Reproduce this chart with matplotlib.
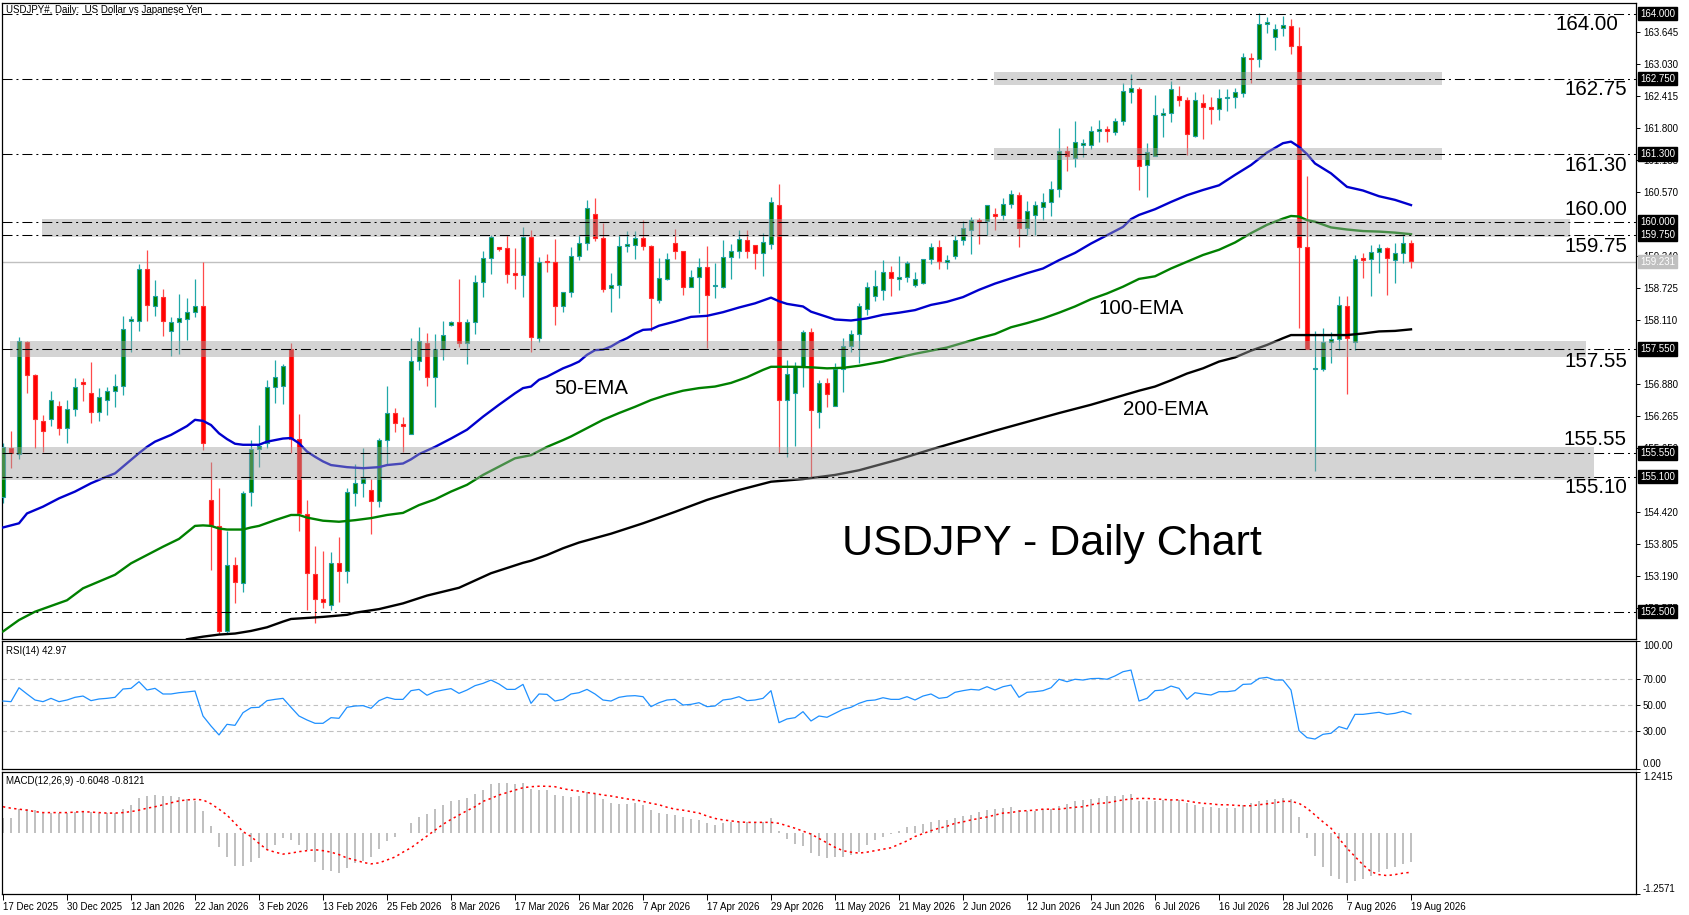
import matplotlib
matplotlib.use("Agg")
import matplotlib.pyplot as plt
from matplotlib.transforms import blended_transform_factory
import numpy as np

# daily candles, 17 Dec 2025 .. 19 Aug 2026
opens = [154.70, 155.65, 155.53, 157.68, 157.05, 156.16, 156.20, 156.45, 156.03, 156.39,
         156.92, 156.70, 156.35, 156.58, 156.74, 156.85, 158.09, 158.10, 159.10, 158.37,
         158.56, 157.89, 158.07, 158.13, 158.26, 158.37, 154.64, 154.15, 152.12, 153.40,
         153.06, 154.80, 155.62, 155.75, 156.82, 156.85, 157.55, 155.83, 154.37, 153.22,
         152.74, 152.62, 153.43, 153.29, 154.78, 154.97, 154.85, 154.62, 155.81, 156.33,
         156.10, 155.91, 157.33, 157.67, 157.02, 157.55, 158.01, 158.08, 157.66, 158.07,
         158.84, 159.30, 159.50, 159.49, 159.01, 158.97, 159.70, 157.76, 159.24, 159.23,
         158.37, 158.64, 159.35, 159.60, 160.14, 159.68, 158.72, 158.78, 159.53, 159.55,
         159.68, 159.53, 158.49, 158.90, 159.60, 159.43, 158.75, 158.94, 159.12, 158.76,
         158.75, 159.32, 159.44, 159.65, 159.55, 159.40, 159.58, 160.32, 156.57, 156.71,
         157.21, 157.87, 156.35, 156.89, 156.46, 157.16, 157.61, 157.85, 158.33, 158.57,
         158.69, 159.04, 158.89, 158.93, 158.78, 158.83, 159.28, 159.51, 159.23, 159.34,
         159.65, 159.85, 160.03, 160.01, 160.13, 160.13, 160.34, 160.51, 159.87, 160.12,
         160.29, 160.37, 160.62, 161.36, 161.22, 161.47, 161.48, 161.74, 161.78, 161.72,
         161.94, 162.50, 162.55, 161.09, 161.26, 162.06, 162.09, 162.42, 162.35, 161.65,
         162.29, 162.20, 162.16, 162.37, 162.40, 162.47, 163.15, 163.12, 163.81, 163.55,
         163.73, 163.77, 163.37, 159.51, 157.16, 157.16, 157.68, 157.74, 158.38, 157.69,
         159.29, 159.28, 159.41, 159.49, 159.26, 159.40, 159.60]
highs = [155.75, 155.98, 157.79, 157.71, 157.07, 156.28, 156.74, 156.55, 156.57, 157.00,
         157.00, 157.30, 156.80, 156.83, 157.07, 158.18, 158.19, 159.19, 159.46, 158.88,
         158.71, 158.16, 158.61, 158.53, 158.90, 159.23, 155.37, 154.87, 154.06, 153.55,
         154.83, 155.80, 156.09, 156.96, 157.34, 157.26, 157.67, 156.30, 154.65, 153.76,
         153.67, 153.64, 153.93, 154.87, 155.35, 155.65, 155.05, 155.85, 156.84, 156.42,
         156.24, 157.77, 157.98, 157.86, 157.85, 158.09, 158.10, 158.90, 158.13, 158.98,
         159.44, 159.74, 159.52, 159.74, 159.49, 159.89, 159.85, 159.32, 159.38, 159.67,
         158.64, 159.52, 159.74, 160.42, 160.45, 159.97, 159.01, 159.74, 159.83, 159.83,
         160.03, 159.55, 159.30, 159.39, 159.86, 159.43, 159.07, 159.31, 159.53, 159.20,
         159.65, 159.58, 159.84, 159.84, 159.55, 159.78, 160.48, 160.72, 157.34, 157.31,
         157.92, 157.95, 156.96, 156.99, 157.29, 157.76, 157.92, 158.43, 158.85, 159.08,
         159.26, 159.15, 159.35, 159.24, 159.03, 159.28, 159.60, 159.65, 159.36, 159.74,
         160.01, 160.10, 160.07, 160.33, 160.26, 160.45, 160.61, 160.58, 160.39, 160.40,
         160.55, 160.79, 161.80, 161.46, 161.94, 161.60, 161.84, 161.96, 161.84, 161.99,
         162.66, 162.84, 162.60, 161.51, 162.44, 162.18, 162.71, 162.61, 162.40, 162.50,
         162.46, 162.40, 162.55, 162.56, 162.58, 163.25, 163.24, 164.01, 163.94, 163.80,
         163.96, 163.89, 163.74, 160.88, 157.89, 157.95, 157.88, 158.57, 158.58, 159.36,
         159.40, 159.55, 159.57, 159.52, 159.60, 159.76, 159.65]
lows = [154.60, 155.26, 155.43, 156.70, 155.65, 155.58, 156.08, 155.90, 155.74, 156.27,
        156.55, 156.12, 156.16, 156.29, 156.44, 156.66, 157.50, 157.89, 158.10, 158.19,
        157.81, 157.42, 157.46, 157.73, 158.17, 155.61, 153.31, 152.08, 152.08, 152.67,
        152.87, 154.54, 155.29, 155.65, 156.52, 156.50, 155.55, 154.06, 152.53, 152.28,
        152.58, 152.53, 152.69, 153.06, 154.53, 154.71, 154.00, 154.52, 155.35, 155.96,
        155.58, 155.91, 157.14, 156.84, 156.44, 157.34, 157.99, 157.60, 157.27, 157.84,
        158.56, 159.00, 159.44, 158.83, 158.71, 158.56, 157.50, 157.69, 159.04, 158.01,
        158.27, 158.56, 159.26, 159.46, 159.62, 158.65, 158.27, 158.54, 159.42, 159.29,
        159.46, 157.90, 158.44, 158.88, 159.28, 158.59, 158.75, 158.25, 157.58, 158.54,
        158.72, 158.90, 159.30, 159.30, 159.09, 158.96, 159.47, 155.56, 155.48, 155.69,
        156.83, 155.10, 156.03, 156.43, 156.45, 156.73, 157.50, 157.29, 158.21, 158.48,
        158.49, 158.58, 158.69, 158.85, 158.75, 158.80, 159.18, 159.10, 159.10, 159.28,
        159.55, 159.37, 159.58, 159.74, 159.84, 160.03, 160.26, 159.52, 159.74, 159.74,
        160.03, 160.11, 160.47, 160.98, 161.06, 161.25, 161.39, 161.53, 161.53, 161.67,
        161.86, 162.29, 160.61, 160.47, 161.26, 161.63, 161.92, 162.22, 161.28, 161.62,
        161.60, 161.88, 161.96, 162.12, 162.19, 162.39, 162.66, 162.98, 163.63, 163.31,
        163.58, 163.22, 157.96, 157.55, 155.21, 157.12, 157.29, 157.54, 156.68, 157.53,
        158.91, 158.57, 159.02, 158.60, 158.83, 159.20, 159.11]
closes = [155.67, 155.55, 157.71, 157.05, 156.20, 155.97, 156.57, 156.03, 156.39, 156.82,
          156.87, 156.35, 156.62, 156.74, 156.85, 157.93, 158.11, 159.10, 158.39, 158.58,
          158.10, 158.07, 158.14, 158.26, 158.37, 155.74, 154.16, 152.12, 153.40, 153.08,
          154.78, 155.62, 155.69, 156.83, 157.01, 157.23, 155.83, 154.39, 153.24, 152.74,
          152.68, 153.43, 153.29, 154.80, 154.97, 155.07, 154.62, 155.81, 156.33, 156.12,
          156.08, 157.32, 157.70, 157.02, 157.55, 157.82, 158.08, 157.66, 158.07, 158.84,
          159.30, 159.71, 159.48, 158.99, 158.97, 159.70, 157.78, 159.23, 159.22, 158.37,
          158.64, 159.35, 159.60, 160.26, 159.68, 158.70, 158.78, 159.53, 159.57, 159.68,
          159.53, 158.53, 158.91, 159.28, 159.44, 158.75, 158.94, 159.12, 158.60, 158.78,
          159.33, 159.44, 159.66, 159.44, 159.40, 159.61, 160.37, 156.57, 157.07, 157.21,
          157.87, 156.37, 156.89, 156.69, 157.16, 157.61, 157.85, 158.37, 158.75, 158.77,
          159.04, 158.91, 158.94, 159.21, 158.89, 159.28, 159.51, 159.24, 159.26, 159.64,
          159.87, 160.03, 160.00, 160.32, 160.11, 160.35, 160.53, 159.87, 160.21, 160.32,
          160.37, 160.62, 161.36, 161.27, 161.53, 161.51, 161.75, 161.78, 161.74, 161.94,
          162.51, 162.57, 161.08, 161.35, 162.06, 162.09, 162.56, 162.35, 161.68, 162.34,
          162.21, 162.16, 162.37, 162.40, 162.49, 163.16, 163.12, 163.81, 163.83, 163.71,
          163.79, 163.38, 159.51, 157.55, 157.19, 157.68, 157.74, 158.39, 157.77, 159.28,
          159.27, 159.41, 159.49, 159.31, 159.40, 159.60, 159.24]

# moving averages at selected bars
ema50_bar = [0, 2, 3, 5, 7, 9, 11, 13, 14, 16, 17, 18, 19, 21, 23, 24, 25, 26, 27, 28,
             29, 30, 32, 33, 35, 36, 37, 38, 39, 40, 41, 43, 45, 47, 48, 50, 51, 52, 54, 56,
             58, 60, 62, 64, 65, 66, 67, 68, 70, 71, 72, 73, 74, 75, 76, 77, 78, 79, 80, 81,
             82, 84, 86, 88, 90, 92, 94, 96, 97, 98, 100, 101, 102, 103, 104, 106, 108, 110, 112, 114,
             116, 118, 120, 122, 124, 126, 128, 130, 132, 134, 136, 138, 140, 141, 142, 144, 146, 148, 150, 152,
             154, 156, 158, 160, 161, 162, 163, 164, 166, 168, 170, 172, 174, 176]
ema50_val = [154.12, 154.20, 154.39, 154.52, 154.68, 154.81, 154.97, 155.10, 155.16, 155.42,
             155.55, 155.67, 155.77, 155.90, 156.07, 156.19, 156.17, 156.09, 155.93, 155.82,
             155.73, 155.71, 155.71, 155.77, 155.83, 155.84, 155.74, 155.58, 155.48, 155.39,
             155.32, 155.28, 155.26, 155.28, 155.32, 155.35, 155.43, 155.53, 155.67, 155.83,
             156.00, 156.25, 156.48, 156.70, 156.80, 156.83, 156.96, 157.02, 157.18, 157.24,
             157.31, 157.44, 157.53, 157.54, 157.60, 157.69, 157.76, 157.85, 157.92, 157.93,
             158.00, 158.08, 158.17, 158.19, 158.26, 158.35, 158.43, 158.54, 158.47, 158.42,
             158.37, 158.27, 158.22, 158.17, 158.12, 158.10, 158.14, 158.21, 158.25, 158.30,
             158.40, 158.46, 158.55, 158.69, 158.81, 158.91, 159.01, 159.10, 159.26, 159.40,
             159.58, 159.74, 159.90, 160.05, 160.13, 160.24, 160.38, 160.51, 160.61, 160.70,
             160.90, 161.09, 161.33, 161.51, 161.54, 161.44, 161.30, 161.12, 160.93, 160.67,
             160.60, 160.49, 160.42, 160.32]

ema100_bar = [0, 2, 4, 6, 8, 10, 12, 14, 16, 18, 20, 22, 24, 25, 26, 27, 28, 30, 31, 32,
              34, 36, 37, 38, 40, 42, 44, 46, 48, 50, 52, 54, 56, 58, 60, 62, 64, 66, 68, 70,
              71, 73, 75, 77, 79, 81, 83, 85, 87, 89, 91, 93, 95, 96, 99, 101, 103, 105, 107, 110,
              112, 114, 116, 118, 120, 122, 124, 126, 128, 130, 132, 134, 136, 138, 140, 142, 144, 146, 148, 150,
              152, 154, 156, 158, 160, 161, 162, 163, 164, 166, 168, 170, 172, 174, 176]
ema100_val = [152.12, 152.34, 152.50, 152.61, 152.72, 152.95, 153.08, 153.21, 153.43, 153.59,
              153.75, 153.90, 154.15, 154.16, 154.15, 154.10, 154.08, 154.08, 154.12, 154.15,
              154.26, 154.36, 154.36, 154.31, 154.25, 154.23, 154.26, 154.30, 154.36, 154.40,
              154.55, 154.66, 154.81, 154.94, 155.13, 155.29, 155.45, 155.51, 155.67, 155.80,
              155.87, 156.03, 156.19, 156.32, 156.44, 156.57, 156.67, 156.75, 156.80, 156.83,
              156.90, 157.01, 157.15, 157.21, 157.21, 157.20, 157.18, 157.19, 157.23, 157.31,
              157.39, 157.46, 157.52, 157.58, 157.67, 157.76, 157.84, 157.97, 158.05, 158.14,
              158.25, 158.37, 158.51, 158.62, 158.75, 158.90, 158.95, 159.10, 159.23, 159.36,
              159.46, 159.60, 159.78, 159.94, 160.06, 160.11, 160.10, 160.03, 160.00, 159.89,
              159.85, 159.82, 159.81, 159.79, 159.76]

ema200_bar = [23, 25, 27, 29, 31, 33, 35, 36, 40, 43, 44, 47, 50, 53, 57, 61, 65, 66, 68, 70,
              72, 76, 80, 84, 88, 92, 96, 100, 104, 107, 112, 116, 120, 124, 128, 132, 136, 138, 142, 144,
              146, 148, 150, 152, 154, 156, 158, 160, 161, 164, 168, 170, 172, 174, 176]
ema200_val = [151.97, 152.02, 152.06, 152.08, 152.13, 152.20, 152.31, 152.36, 152.40, 152.44,
              152.48, 152.55, 152.66, 152.81, 152.96, 153.24, 153.44, 153.48, 153.59, 153.72,
              153.83, 154.00, 154.20, 154.42, 154.65, 154.84, 155.00, 155.05, 155.13, 155.22,
              155.43, 155.62, 155.80, 155.98, 156.15, 156.32, 156.48, 156.57, 156.75, 156.83,
              156.95, 157.08, 157.18, 157.31, 157.39, 157.52, 157.63, 157.76, 157.82, 157.82,
              157.82, 157.85, 157.89, 157.90, 157.93]

# RSI(14), one value per bar
rsi = [53.1, 52.6, 63.5, 58.6, 53.9, 52.6, 55.2, 52.6, 53.9, 56.0,
       57.0, 53.4, 54.7, 55.2, 56.0, 62.5, 63.0, 68.2, 61.7, 63.0,
       58.6, 58.6, 59.6, 60.2, 60.9, 41.4, 33.6, 26.6, 34.9, 34.1,
       44.0, 47.9, 48.2, 53.4, 54.4, 55.2, 48.2, 41.4, 38.3, 35.7,
       35.7, 40.1, 39.6, 48.2, 49.2, 49.5, 47.4, 53.4, 56.0, 54.4,
       54.4, 61.2, 62.2, 57.6, 60.4, 61.7, 62.8, 59.1, 61.7, 65.1,
       66.9, 69.5, 66.4, 62.2, 62.2, 66.1, 51.3, 58.6, 58.3, 53.1,
       54.4, 58.6, 59.6, 62.2, 58.6, 53.9, 53.1, 56.0, 57.0, 57.3,
       56.5, 48.7, 51.8, 53.9, 54.4, 50.0, 50.5, 51.8, 48.7, 49.2,
       53.9, 54.7, 56.5, 53.4, 53.9, 55.2, 61.2, 36.2, 39.1, 40.1,
       44.8, 37.5, 41.4, 40.4, 43.5, 46.6, 48.2, 51.3, 53.4, 53.9,
       55.7, 54.4, 54.4, 56.5, 53.9, 57.0, 58.6, 55.2, 56.0, 59.9,
       61.2, 62.2, 61.7, 64.3, 61.7, 64.3, 65.6, 56.0, 59.9, 60.4,
       61.2, 63.5, 70.1, 68.2, 70.1, 69.5, 70.6, 70.8, 70.1, 72.7,
       76.0, 77.3, 53.1, 55.2, 61.2, 61.7, 64.8, 63.0, 54.4, 59.6,
       58.6, 57.8, 60.4, 60.4, 61.2, 66.1, 66.4, 70.8, 71.6, 69.5,
       69.5, 61.7, 30.0, 24.5, 23.4, 27.1, 27.9, 33.1, 31.2, 42.7,
       42.7, 43.5, 44.3, 42.7, 43.5, 45.1, 42.97]

# MACD(12,26,9): histogram (main) and signal, one value per bar
macd_main = [0.29, 0.29, 0.48, 0.48, 0.46, 0.41, 0.41, 0.40, 0.41, 0.43,
             0.45, 0.43, 0.41, 0.41, 0.41, 0.48, 0.57, 0.70, 0.74, 0.77,
             0.74, 0.74, 0.72, 0.69, 0.64, 0.44, 0.14, -0.29, -0.49, -0.68,
             -0.69, -0.61, -0.52, -0.35, -0.25, -0.11, -0.15, -0.25, -0.35, -0.61,
             -0.76, -0.79, -0.83, -0.73, -0.62, -0.59, -0.50, -0.34, -0.18, -0.08,
             -0.01, 0.19, 0.32, 0.38, 0.48, 0.57, 0.64, 0.66, 0.70, 0.79,
             0.88, 1.00, 1.02, 1.02, 1.00, 1.02, 0.90, 0.87, 0.87, 0.77,
             0.74, 0.72, 0.74, 0.84, 0.80, 0.68, 0.61, 0.59, 0.59, 0.60,
             0.57, 0.46, 0.41, 0.38, 0.36, 0.31, 0.27, 0.26, 0.19, 0.16,
             0.19, 0.22, 0.21, 0.21, 0.21, 0.22, 0.29, 0.04, -0.14, -0.23,
             -0.27, -0.42, -0.48, -0.52, -0.50, -0.50, -0.45, -0.39, -0.25, -0.15,
             -0.08, -0.02, 0.04, 0.11, 0.13, 0.17, 0.22, 0.26, 0.26, 0.29,
             0.34, 0.36, 0.43, 0.46, 0.48, 0.50, 0.52, 0.46, 0.45, 0.45,
             0.48, 0.48, 0.54, 0.59, 0.64, 0.67, 0.68, 0.70, 0.74, 0.75,
             0.77, 0.79, 0.64, 0.64, 0.64, 0.67, 0.67, 0.66, 0.60, 0.57,
             0.53, 0.52, 0.50, 0.50, 0.50, 0.57, 0.60, 0.64, 0.67, 0.68,
             0.70, 0.68, 0.32, -0.12, -0.48, -0.70, -0.89, -0.96, -1.04, -1.00,
             -0.94, -0.88, -0.80, -0.75, -0.70, -0.64, -0.6048]
macd_signal = [0.53, 0.50, 0.48, 0.46, 0.43, 0.41, 0.41, 0.41, 0.41, 0.42,
               0.43, 0.42, 0.41, 0.40, 0.40, 0.41, 0.43, 0.46, 0.50, 0.53,
               0.57, 0.61, 0.65, 0.67, 0.68, 0.67, 0.59, 0.48, 0.36, 0.19,
               0.02, -0.08, -0.22, -0.35, -0.40, -0.44, -0.42, -0.39, -0.37, -0.35,
               -0.37, -0.40, -0.45, -0.52, -0.56, -0.61, -0.64, -0.62, -0.56, -0.50,
               -0.40, -0.31, -0.19, -0.07, 0.05, 0.17, 0.27, 0.36, 0.45, 0.53,
               0.64, 0.70, 0.77, 0.82, 0.87, 0.92, 0.94, 0.95, 0.95, 0.94,
               0.90, 0.87, 0.85, 0.82, 0.80, 0.77, 0.75, 0.72, 0.69, 0.67,
               0.64, 0.60, 0.57, 0.52, 0.48, 0.46, 0.43, 0.40, 0.34, 0.29,
               0.26, 0.24, 0.22, 0.21, 0.21, 0.21, 0.21, 0.19, 0.14, 0.09,
               0.03, -0.03, -0.12, -0.21, -0.30, -0.37, -0.40, -0.42, -0.40, -0.37,
               -0.34, -0.31, -0.24, -0.17, -0.08, -0.02, 0.04, 0.09, 0.13, 0.19,
               0.22, 0.26, 0.29, 0.32, 0.36, 0.40, 0.41, 0.44, 0.45, 0.46,
               0.48, 0.48, 0.48, 0.50, 0.52, 0.53, 0.57, 0.60, 0.61, 0.64,
               0.67, 0.69, 0.70, 0.70, 0.69, 0.68, 0.67, 0.67, 0.65, 0.62,
               0.60, 0.59, 0.57, 0.57, 0.56, 0.55, 0.55, 0.57, 0.59, 0.61,
               0.64, 0.64, 0.60, 0.50, 0.36, 0.22, 0.09, -0.12, -0.32, -0.49,
               -0.66, -0.80, -0.86, -0.88, -0.86, -0.83, -0.8121]

levels = [164.00, 162.75, 161.30, 160.00, 159.75, 157.55, 155.55, 155.10, 152.50]
level_labels = ["164.00", "162.75", "161.30", "160.00", "159.75", "157.55", "155.55", "155.10"]
last_price = 159.231

# right scale ticks (the ones hidden under level boxes are left out)
price_ticks = [163.645, 163.030, 162.415, 161.800, 161.185, 160.570, 159.340,
               158.725, 158.110, 156.880, 156.265, 155.650, 154.420,
               153.805, 153.190, 152.575]
date_labels = ["17 Dec 2025", "30 Dec 2025", "12 Jan 2026", "22 Jan 2026", "3 Feb 2026",
               "13 Feb 2026", "25 Feb 2026", "8 Mar 2026", "17 Mar 2026", "26 Mar 2026",
               "7 Apr 2026", "17 Apr 2026", "29 Apr 2026", "11 May 2026", "21 May 2026",
               "2 Jun 2026", "12 Jun 2026", "24 Jun 2026", "6 Jul 2026", "16 Jul 2026",
               "28 Jul 2026", "7 Aug 2026", "19 Aug 2026"]

# ---------------------------------------------------------------------------
W, H = 1689, 915
plt.rcParams['font.family'] = ['Liberation Sans', 'DejaVu Sans']
fig = plt.figure(figsize=(W / 100, H / 100), dpi=100)
fig.patch.set_facecolor('white')


def rect(x0, y0, x1, y1):
    return [x0 / W, 1 - y1 / H, (x1 - x0) / W, (y1 - y0) / H]


ax = fig.add_axes(rect(2, 3, 1636, 639))
ax_rsi = fig.add_axes(rect(2, 641, 1636, 769))
ax_macd = fig.add_axes(rect(2, 772, 1636, 894))

xlim = (-0.125, 204.125)
for a in (ax, ax_rsi, ax_macd):
    a.set_xlim(*xlim)
    for s in a.spines.values():
        s.set_linewidth(0.9)
        s.set_color('black')
    a.yaxis.tick_right()
    a.tick_params(axis='y', direction='out', length=3, width=0.7, pad=2, labelsize=7)

ax.set_ylim(151.975, 164.206)
ax.set_xticks([])
ax_rsi.set_xticks([])

n = len(closes)
x = np.arange(n)

# current price line
ax.axhline(last_price, color='#c0c0c0', lw=1.0, zorder=1)

# candles
for i in range(n):
    o, h, l, c = opens[i], highs[i], lows[i], closes[i]
    bull = c >= o
    wick = '#20a8a8' if bull else '#ff4a4a'
    fill = '#008000' if bull else '#ff0000'
    edge = '#20a0a0' if bull else '#ff3030'
    ax.vlines(i, l, h, color=wick, lw=0.9, zorder=2)
    lo = min(o, c)
    hgt = max(abs(c - o), 0.03)
    ax.bar(i, hgt, bottom=lo, width=0.62, color=fill, edgecolor=edge, linewidth=0.8, zorder=3)

# moving averages
ax.plot(ema50_bar, ema50_val, color='#0000cd', lw=1.7, zorder=4)
ax.plot(ema100_bar, ema100_val, color='#008000', lw=1.7, zorder=4)
ax.plot(ema200_bar, ema200_val, color='black', lw=1.7, zorder=4)

# grey zones (drawn over candles, semi transparent)
zones = [(123.9, 179.9, 162.63, 162.88), (123.9, 179.9, 161.18, 161.42),
         (4.9, 195.9, 159.70, 160.05), (0.9, 197.9, 157.40, 157.70),
         (-0.2, 198.9, 155.03, 155.67)]
for x0, x1, y0, y1 in zones:
    ax.fill_between([x0, x1], y0, y1, color='#a0a0a0', alpha=0.45, lw=0, zorder=5)

# horizontal levels
for lv in levels:
    ax.axhline(lv, color='black', lw=0.75, dashes=(9.6, 3.8, 1.9, 3.8), zorder=6)

# big level labels
lab_pos = [(201.9, 163.79), (203.0, 162.54), (203.0, 161.08), (203.0, 160.235),
           (203.0, 159.52), (203.0, 157.32), (203.0, 155.81), (203.0, 154.88)]
for (lx, ly), t in zip(lab_pos, level_labels):
    ax.text(lx, ly, t, fontsize=14.8, ha='right', va='center', color='black', zorder=8)

ax.text(68.9, 156.79, "50-EMA", fontsize=14.8, ha='left', va='center', zorder=8)
ax.text(137.0, 158.34, "100-EMA", fontsize=14.8, ha='left', va='center', zorder=8)
ax.text(140.0, 156.38, "200-EMA", fontsize=14.8, ha='left', va='center', zorder=8)
ax.text(104.9, 153.80, "USDJPY - Daily Chart", fontsize=31, ha='left', va='center', zorder=8)

# right price scale
ax.set_yticks(price_ticks)
ax.set_yticklabels(["%.3f" % v for v in price_ticks])
tr = blended_transform_factory(ax.transAxes, ax.transData)
for lv in levels:
    ax.text(1.0025, lv, "%.3f" % lv, transform=tr, fontsize=7, color='white',
            ha='left', va='center', zorder=10, clip_on=False,
            bbox=dict(boxstyle='square,pad=0.18', fc='black', ec='black'))
ax.text(1.0025, last_price, "%.3f" % last_price, transform=tr, fontsize=7, color='white',
        ha='left', va='center', zorder=10, clip_on=False,
        bbox=dict(boxstyle='square,pad=0.18', fc='#c0c0c0', ec='#c0c0c0'))

fig.text(6 / W, 1 - 10 / H, "USDJPY#, Daily:  US Dollar vs Japanese Yen", fontsize=7,
         ha='left', va='center')

# RSI panel
ax_rsi.set_ylim(0, 100)
for lv in (70, 50, 30):
    ax_rsi.axhline(lv, color='#c0c0c0', lw=0.8, dashes=(4, 3), zorder=1)
ax_rsi.plot(x, rsi, color='#1e90ff', lw=0.9, zorder=3)
ax_rsi.set_yticks([100, 70, 50, 30, 0])
ax_rsi.set_yticklabels(["100.00", "70.00", "50.00", "30.00", "0.00"])
rl = ax_rsi.get_yticklabels()
rl[0].set_verticalalignment('top')
rl[-1].set_verticalalignment('bottom')
ax_rsi.text(0.0025, 0.925, "RSI(14) 42.97", transform=ax_rsi.transAxes, fontsize=7,
            ha='left', va='center')

# MACD panel
ax_macd.set_ylim(-1.2571, 1.2415)
ax_macd.bar(x, macd_main, width=0.28, color='#c0c0c0', zorder=2)
ax_macd.plot(x, macd_signal, color='red', lw=1.1, dashes=(1.5, 2.2), zorder=3)
ax_macd.set_yticks([1.2415, -1.2571])
ax_macd.set_yticklabels(["1.2415", "-1.2571"])
ml = ax_macd.get_yticklabels()
ml[0].set_verticalalignment('top')
ml[-1].set_verticalalignment('bottom')
ax_macd.text(0.0025, 0.925, "MACD(12,26,9) -0.6048 -0.8121", transform=ax_macd.transAxes,
             fontsize=7, ha='left', va='center')

ax_macd.set_xticks(np.arange(0, n, 8))
ax_macd.set_xticklabels(date_labels, ha='left', fontsize=7)
ax_macd.tick_params(axis='x', direction='out', length=4, width=0.7, pad=2)

fig.savefig("out.png", dpi=100, facecolor='white')
